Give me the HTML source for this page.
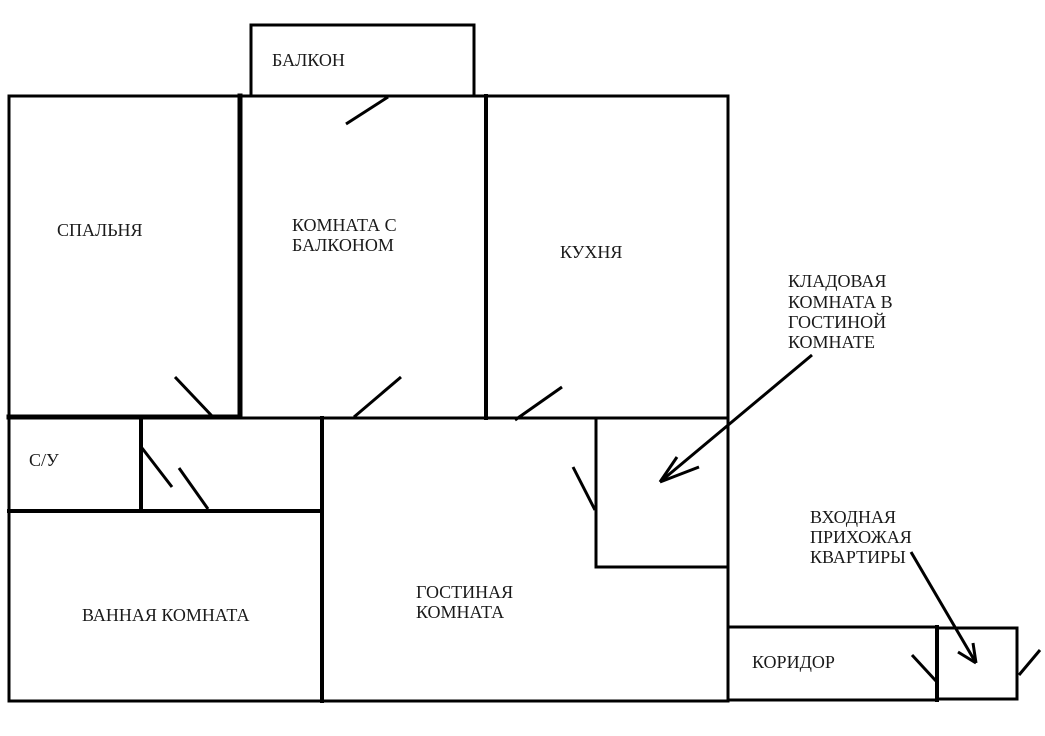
<!DOCTYPE html>
<html>
<head>
<meta charset="utf-8">
<style>
html,body{margin:0;padding:0;background:#fff;}
svg{display:block;}
text{font-family:"Liberation Serif","Noto Serif CJK SC",serif;font-size:18px;fill:#1a1a1a;}
</style>
</head>
<body>
<svg width="1045" height="736" viewBox="0 0 1045 736" xmlns="http://www.w3.org/2000/svg">
<rect width="1045" height="736" fill="#fff"/>
<g stroke="#000" stroke-width="3" fill="none" stroke-linecap="square">
  <polyline points="251,96 251,25 474,25 474,96"/>
  <line x1="9" y1="96" x2="728" y2="96"/>
  <line x1="9" y1="96" x2="9" y2="701"/>
  <line x1="240" y1="96" x2="240" y2="417" stroke-width="5"/>
  <line x1="486" y1="96" x2="486" y2="418" stroke-width="4"/>
  <line x1="728" y1="96" x2="728" y2="701"/>
  <line x1="9" y1="417" x2="240" y2="417" stroke-width="5"/>
  <line x1="240" y1="418" x2="728" y2="418"/>
  <line x1="141" y1="418" x2="141" y2="511" stroke-width="4"/>
  <line x1="9" y1="511" x2="322" y2="511" stroke-width="4"/>
  <line x1="322" y1="418" x2="322" y2="701" stroke-width="4"/>
  <line x1="9" y1="701" x2="728" y2="701"/>
  <polyline points="596,419 596,567 728,567"/>
  <polyline points="728,627 937,627"/>
  <line x1="728" y1="700" x2="937" y2="700"/>
  <line x1="937" y1="627" x2="937" y2="700" stroke-width="4"/>
  <polyline points="937,628 1017,628 1017,699 937,699"/>
</g>
<g stroke="#000" stroke-width="3" fill="none" stroke-linecap="butt">
  <line x1="388" y1="97" x2="346" y2="124"/>
  <line x1="175" y1="377" x2="212" y2="416"/>
  <line x1="401" y1="377" x2="354" y2="417"/>
  <line x1="562" y1="387" x2="515" y2="420"/>
  <line x1="142" y1="448" x2="172" y2="487"/>
  <line x1="179" y1="468" x2="208" y2="509"/>
  <line x1="573" y1="467" x2="595" y2="510"/>
  <line x1="912" y1="655" x2="936" y2="681"/>
  <line x1="1040" y1="650" x2="1019" y2="675"/>
  <line x1="812" y1="355" x2="660" y2="482"/>
  <line x1="677" y1="457" x2="660" y2="482"/>
  <line x1="699" y1="467" x2="660" y2="482"/>
  <line x1="911" y1="552" x2="976" y2="663"/>
  <line x1="958" y1="652" x2="976" y2="663"/>
  <line x1="973" y1="643" x2="976" y2="663"/>
</g>
<text x="272" y="66">БАЛКОН</text>
<text x="57" y="236">СПАЛЬНЯ</text>
<text x="292" y="231">КОМНАТА С</text>
<text x="292" y="251">БАЛКОНОМ</text>
<text x="560" y="258">КУХНЯ</text>
<text x="788" y="287">КЛАДОВАЯ</text>
<text x="788" y="308">КОМНАТА В</text>
<text x="788" y="328">ГОСТИНОЙ</text>
<text x="788" y="348">КОМНАТЕ</text>
<text x="29" y="466">С/У</text>
<text x="82" y="621">ВАННАЯ КОМНАТА</text>
<text x="416" y="598">ГОСТИНАЯ</text>
<text x="416" y="618">КОМНАТА</text>
<text x="810" y="523">ВХОДНАЯ</text>
<text x="810" y="543">ПРИХОЖАЯ</text>
<text x="810" y="563">КВАРТИРЫ</text>
<text x="752" y="668">КОРИДОР</text>
</svg>
</body>
</html>
